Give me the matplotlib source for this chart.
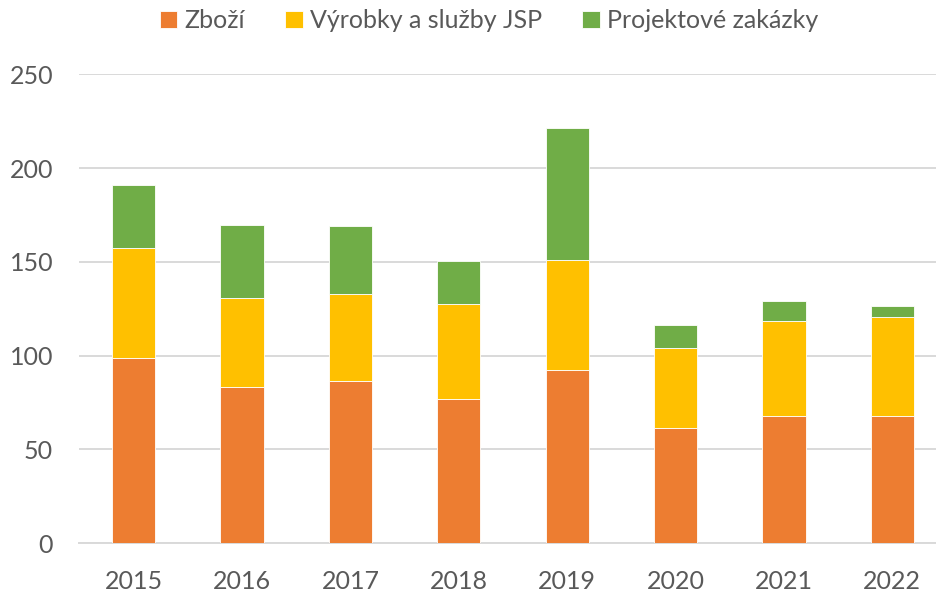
import numpy as np
import matplotlib.pyplot as plt

years = ["2015", "2016", "2017", "2018", "2019", "2020", "2021", "2022"]
zbozi = [99.0, 83.3, 86.7, 77.1, 92.6, 61.3, 67.9, 68.1]
vyrobky = [58.2, 47.3, 46.4, 50.3, 58.6, 43.0, 50.8, 52.5]
projekty = [33.6, 39.3, 35.9, 22.9, 70.0, 12.1, 10.7, 5.7]

labels = ["Zboží", "Výrobky a služby JSP", "Projektové zakázky"]
colors = ["#ED7D31", "#FFC000", "#70AD47"]

plt.rcParams['font.family'] = ['Lato', 'DejaVu Sans']

fig = plt.figure(figsize=(9.37, 5.94), dpi=100)
# axes runs a little past the right edge, as in the cropped original
ax = fig.add_axes([79.5 / 937, 1 - 543.3 / 594, 867 / 937, 469 / 594])

x = np.arange(len(years))
w = 0.4
bottom = np.zeros(len(years))
for vals, lab, c in zip([zbozi, vyrobky, projekty], labels, colors):
    ax.bar(x, vals, w, bottom=bottom, color=c, label=lab,
           edgecolor="white", linewidth=0.6, zorder=3)
    bottom += np.array(vals)

ax.set_xlim(-0.5, len(years) - 0.5)
ax.set_ylim(0, 250)
ax.set_yticks(range(0, 251, 50))
ax.set_xticks(x)
ax.set_xticklabels(years)
ax.grid(axis="y", color="#D9D9D9", linewidth=1.4, zorder=0)
for s in ["top", "right", "left"]:
    ax.spines[s].set_visible(False)
ax.spines["bottom"].set_color("#D9D9D9")
ax.spines["bottom"].set_linewidth(1.4)
ax.tick_params(axis="both", length=0, labelsize=18, colors="#595959")
ax.tick_params(axis="y", pad=19)
ax.tick_params(axis="x", pad=19)

fig.legend(loc="upper center", bbox_to_anchor=(0.522, 1.01), ncol=3, frameon=False,
           fontsize=18, labelcolor="#595959", handlelength=0.7, handleheight=0.7,
           handletextpad=0.3, columnspacing=1.6, borderaxespad=0.2)

fig.savefig("out.png", dpi=100)
